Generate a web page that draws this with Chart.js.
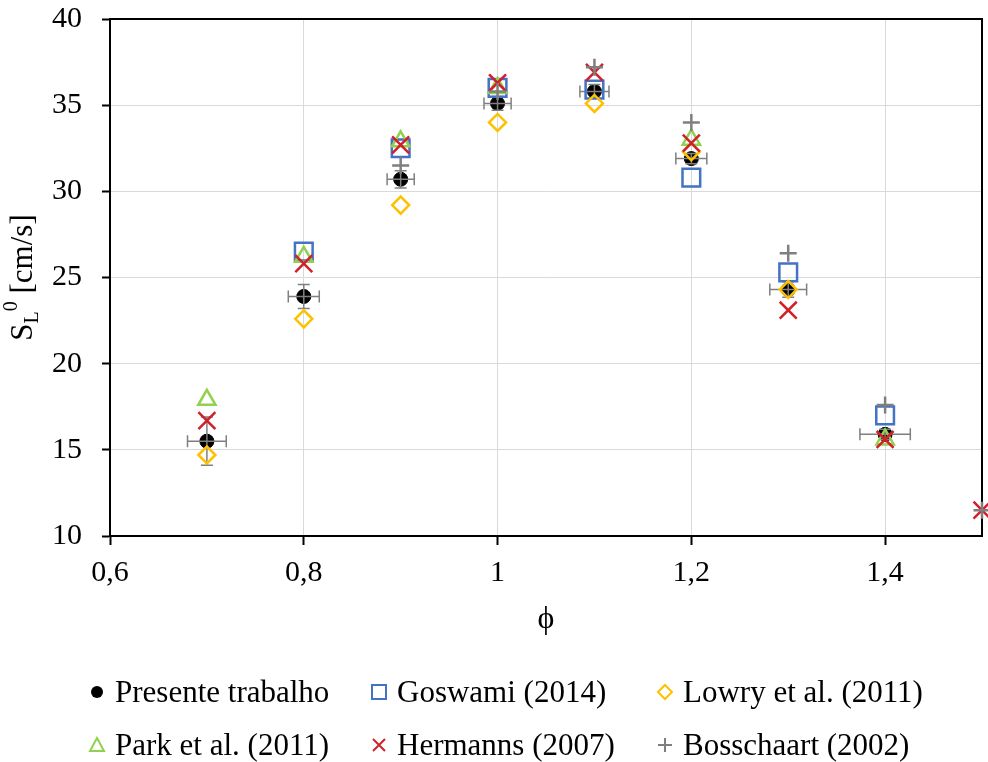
<!DOCTYPE html>
<html>
<head>
<meta charset="utf-8">
<script src="https://cdn.jsdelivr.net/npm/chart.js@4.4.1/dist/chart.umd.min.js"></script>
<style>
  body { margin: 0; background: #fff; }
  #wrap { position: relative; width: 988px; height: 762px; }
  .item { position: absolute; height: 40px; display: flex; align-items: center;
          font: 31px "Liberation Serif", "Times New Roman", serif; color: #000; white-space: nowrap; }
  .item svg { width: 18px; height: 18px; margin-right: 9px; }
</style>
</head>
<body>
<div id="wrap">
  <canvas id="chart" width="988" height="762"></canvas>
  <div id="legend"></div>
</div>
<script>
// Valores
const phi = [0.7, 0.8, 0.9, 1.0, 1.1, 1.2, 1.3, 1.4, 1.5];
const presente   = [15.5, 23.9, 30.7, 35.1, 35.8, 31.9, 24.3, 15.9, null];
const presenteErrX = [0.02, 0.016, 0.014, 0.014, 0.015, 0.016, 0.019, 0.026, null];
const presenteErrY = [1.4, 0.7, 0.5, 0.4, 0.4, 0.3, 0.45, 0.3, null];
const goswami    = [null, 26.5, 32.5, 36.0, 35.9, 30.8, 25.3, 17.0, null];
const lowry      = [14.7, 22.6, 29.2, 34.0, 35.1, 32.3, 24.3, null, null];
const park       = [17.9, 26.2, 32.9, 36.0, null, 33.0, null, 15.6, null];
const hermanns   = [16.7, 25.8, 32.7, 36.3, 36.9, 32.8, 23.1, 15.6, 11.5];
const bosschaart = [null, null, 31.5, 35.8, 37.2, 34.0, 26.4, 17.6, 11.5];

const xTicks = [0.6, 0.8, 1.0, 1.2, 1.4];
const yTicks = [10, 15, 20, 25, 30, 35, 40];

const serif = '"Liberation Serif", "Times New Roman", serif';
const fmt = v => String(Math.round(v * 10) / 10).replace('.', ',');

function pts(vals) {
  return phi.map((x, i) => vals[i] == null ? null : { x: x, y: vals[i] }).filter(Boolean);
}

const series = [
  { label: 'Presente trabalho', data: presente, style: 'circle', radius: 7, color: '#000', fill: '#000' },
  { label: 'Goswami (2014)', data: goswami, style: 'rect', radius: 12.5, color: '#4472c4', fill: 'rgba(0,0,0,0)' },
  { label: 'Lowry et al. (2011)', data: lowry, style: 'rectRot', radius: 8.5, color: '#ffc000', fill: 'rgba(0,0,0,0)' },
  { label: 'Park et al. (2011)', data: park, style: 'triangle', radius: 10, color: '#92d050', fill: 'rgba(0,0,0,0)' },
  { label: 'Hermanns (2007)', data: hermanns, style: 'crossRot', radius: 12, color: '#d0202a', fill: 'rgba(0,0,0,0)' },
  { label: 'Bosschaart (2002)', data: bosschaart, style: 'cross', radius: 8.5, color: '#7f7f7f', fill: 'rgba(0,0,0,0)' }
];

// barras de erro do presente trabalho
const errorBars = {
  id: 'errorBars',
  afterDatasetDraw(chart, args) {
    if (args.index !== 0) return;
    const x = chart.scales.x, y = chart.scales.y, ctx = chart.ctx;
    ctx.save();
    ctx.strokeStyle = '#7f7f7f';
    ctx.lineWidth = 1.5;
    const cap = 6;
    phi.forEach((p, i) => {
      if (presente[i] == null) return;
      const cx = x.getPixelForValue(p), cy = y.getPixelForValue(presente[i]);
      const x0 = x.getPixelForValue(p - presenteErrX[i]), x1 = x.getPixelForValue(p + presenteErrX[i]);
      const y0 = y.getPixelForValue(presente[i] - presenteErrY[i]), y1 = y.getPixelForValue(presente[i] + presenteErrY[i]);
      ctx.beginPath();
      ctx.moveTo(x0, cy); ctx.lineTo(x1, cy);
      ctx.moveTo(x0, cy - cap); ctx.lineTo(x0, cy + cap);
      ctx.moveTo(x1, cy - cap); ctx.lineTo(x1, cy + cap);
      ctx.moveTo(cx, y0); ctx.lineTo(cx, y1);
      ctx.moveTo(cx - cap, y0); ctx.lineTo(cx + cap, y0);
      ctx.moveTo(cx - cap, y1); ctx.lineTo(cx + cap, y1);
      ctx.stroke();
    });
    ctx.restore();
  }
};

// moldura e títulos dos eixos
const frame = {
  id: 'frame',
  beforeDatasetsDraw(chart) {
    const a = chart.chartArea, ctx = chart.ctx;
    ctx.save();
    ctx.strokeStyle = '#000';
    ctx.lineWidth = 2;
    ctx.strokeRect(a.left, a.top, a.right - a.left, a.bottom - a.top);
    ctx.restore();
  },
  afterDraw(chart) {
    const a = chart.chartArea, ctx = chart.ctx;
    ctx.save();
    ctx.fillStyle = '#000';
    ctx.textAlign = 'center';
    ctx.textBaseline = 'middle';
    ctx.font = '32px ' + serif;
    ctx.fillText('ϕ', (a.left + a.right) / 2, a.bottom + 84);

    // S_L^0 [cm/s]
    const parts = [
      { t: 'S', size: 31, dy: 0 },
      { t: 'L', size: 20, dy: 6 },
      { t: '0', size: 20, dy: -15 },
      { t: ' [cm/s]', size: 31, dy: 0 }
    ];
    let total = 0;
    parts.forEach(p => { ctx.font = p.size + 'px ' + serif; p.w = ctx.measureText(p.t).width; total += p.w; });
    ctx.translate(a.left - 78, (a.top + a.bottom) / 2);
    ctx.rotate(-Math.PI / 2);
    ctx.textAlign = 'left';
    ctx.textBaseline = 'alphabetic';
    let cx = -total / 2;
    parts.forEach(p => {
      ctx.font = p.size + 'px ' + serif;
      ctx.fillText(p.t, cx, p.dy);
      cx += p.w;
    });
    ctx.restore();
  }
};

new Chart(document.getElementById('chart'), {
  type: 'scatter',
  data: {
    datasets: series.map((s, i) => ({
      label: s.label,
      data: pts(s.data),
      pointStyle: s.style,
      pointRadius: s.radius,
      pointHoverRadius: s.radius,
      pointBorderColor: s.color,
      pointBackgroundColor: s.fill,
      pointBorderWidth: i === 0 ? 1 : 2.5,
      showLine: false,
      clip: false,
      order: series.length - i
    }))
  },
  options: {
    responsive: false,
    animation: false,
    layout: { autoPadding: false, padding: { top: 19, right: 6, left: 0, bottom: 0 } },
    plugins: { legend: { display: false }, tooltip: { enabled: false } },
    scales: {
      x: {
        type: 'linear', min: 0.6, max: 1.5,
        afterBuildTicks: s => { s.ticks = xTicks.map(v => ({ value: v })); },
        afterFit: s => { s.height = 226; s.paddingLeft = 0; s.paddingRight = 0; },
        ticks: { callback: v => fmt(v), color: '#000', padding: 10, maxRotation: 0, autoSkip: false,
                 font: { family: serif, size: 30 } },
        grid: { color: '#d9d9d9', lineWidth: 1, tickColor: '#000', tickLength: 9, tickWidth: 2 },
        border: { color: '#000', width: 2 }
      },
      y: {
        min: 10, max: 40,
        afterBuildTicks: s => { s.ticks = yTicks.map(v => ({ value: v })); },
        afterFit: s => { s.width = 110; s.paddingTop = 0; s.paddingBottom = 0; },
        ticks: { callback: v => fmt(v), color: '#000', padding: 20, font: { family: serif, size: 30 } },
        grid: { color: '#d9d9d9', lineWidth: 1, tickColor: '#000', tickLength: 8, tickWidth: 2 },
        border: { color: '#000', width: 2 }
      }
    }
  },
  plugins: [errorBars, frame]
});

// legenda em três colunas
const markers = {
  circle:   '<circle cx="9" cy="9" r="6" fill="#000"/>',
  rect:     '<rect x="2" y="2" width="14" height="14" fill="none" stroke="#4472c4" stroke-width="2"/>',
  rectRot:  '<path d="M9 2 L16 9 L9 16 L2 9 Z" fill="none" stroke="#ffc000" stroke-width="2"/>',
  triangle: '<path d="M9 2 L16 15 L2 15 Z" fill="none" stroke="#92d050" stroke-width="2"/>',
  crossRot: '<path d="M3 3 L15 15 M15 3 L3 15" stroke="#d0202a" stroke-width="2"/>',
  cross:    '<path d="M9 2 L9 16 M2 9 L16 9" stroke="#7f7f7f" stroke-width="2"/>'
};
const colX = [97, 379, 665];
const rowY = [692, 745];
const legend = document.getElementById('legend');
series.forEach((s, i) => {
  const d = document.createElement('div');
  d.className = 'item';
  d.style.left = (colX[i % 3] - 9) + 'px';
  d.style.top = (rowY[Math.floor(i / 3)] - 20) + 'px';
  d.innerHTML = '<svg viewBox="0 0 18 18">' + markers[s.style] + '</svg><span>' + s.label + '</span>';
  legend.appendChild(d);
});
</script>
</body>
</html>
